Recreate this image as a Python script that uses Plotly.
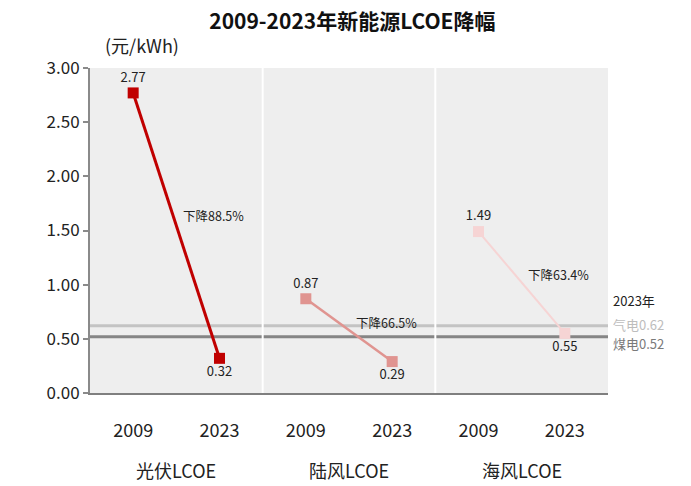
import plotly.graph_objects as go

# LCOE values (元/kWh)
years = ["2009", "2023"]
techs = ["光伏LCOE", "陆风LCOE", "海风LCOE"]
lcoe_2009 = [2.77, 0.87, 1.49]
lcoe_2023 = [0.32, 0.29, 0.55]
drop_labels = ["下降88.5%", "下降66.5%", "下降63.4%"]
drop_label_y = [1.64, 0.65, 1.09]
colors = ["#c00000", "#e09490", "#f6d4d4"]
line_widths = [3, 2.5, 2]

gas_2023 = 0.62
coal_2023 = 0.52

FONT = "Noto Sans CJK SC, Noto Sans, sans-serif"

fig = go.Figure()

# reference lines for thermal power
for val, col in [(gas_2023, "#c3c3c3"), (coal_2023, "#858585")]:
    fig.add_trace(go.Scatter(
        x=[-0.5, 5.5], y=[val, val], mode="lines",
        line=dict(color=col, width=3), hoverinfo="skip", showlegend=False,
    ))

for i, tech in enumerate(techs):
    x0 = 2 * i
    fig.add_trace(go.Scatter(
        x=[x0, x0 + 1],
        y=[lcoe_2009[i], lcoe_2023[i]],
        mode="lines+markers+text",
        line=dict(color=colors[i], width=line_widths[i]),
        marker=dict(symbol="square", size=11, color=colors[i]),
        text=[f"{lcoe_2009[i]:.2f}", f"{lcoe_2023[i]:.2f}"],
        textposition=["top center", "bottom center"],
        textfont=dict(family=FONT, size=13, color="#222222"),
        name=tech, showlegend=False, cliponaxis=False,
    ))
    fig.add_annotation(
        x=x0 + 0.93, y=drop_label_y[i], text=drop_labels[i],
        showarrow=False, font=dict(family=FONT, size=12.5, color="#222222"),
    )
    fig.add_annotation(
        x=x0 + 0.5, xref="x", y=-0.237, yref="paper", text=tech,
        showarrow=False, yanchor="middle",
        font=dict(family=FONT, size=18, color="#222222"),
    )

# panel separators
for xs in [1.5, 3.5]:
    fig.add_shape(type="line", x0=xs, x1=xs, y0=0, y1=1, xref="x", yref="paper",
                  line=dict(color="white", width=2), layer="above")

# labels for thermal reference lines
fig.add_annotation(x=1.006, xref="paper", y=0.85, yref="y", text="2023年",
                   showarrow=False, xanchor="left",
                   font=dict(family=FONT, size=13, color="#222222"))
fig.add_annotation(x=1.006, xref="paper", y=gas_2023 + 0.01, yref="y",
                   text=f"气电{gas_2023:.2f}", showarrow=False, xanchor="left",
                   font=dict(family=FONT, size=13, color="#bdbdbd"))
fig.add_annotation(x=1.006, xref="paper", y=coal_2023 - 0.06, yref="y",
                   text=f"煤电{coal_2023:.2f}", showarrow=False, xanchor="left",
                   font=dict(family=FONT, size=13, color="#7a7a7a"))

# unit label
fig.add_annotation(x=0.025, xref="paper", y=1.07, yref="paper", text="(元/kWh)",
                   showarrow=False, xanchor="left", yanchor="middle",
                   font=dict(family=FONT, size=18, color="#222222"))

fig.update_layout(
    width=691, height=486,
    margin=dict(l=90, r=83, t=68, b=93),
    paper_bgcolor="white",
    plot_bgcolor="#eeeeee",
    title=dict(text="<b>2009-2023年新能源LCOE降幅</b>", x=0.51, xanchor="center",
               y=0.955, yanchor="middle",
               font=dict(family=FONT, size=21, color="#111111")),
    xaxis=dict(
        range=[-0.5, 5.5], tickmode="array", tickvals=list(range(6)),
        ticktext=years * 3, showgrid=False, zeroline=False,
        showline=True, linecolor="#7f7f7f", linewidth=2,
        ticks="", ticklabelstandoff=20,
        tickfont=dict(family=FONT, size=18, color="#222222"),
    ),
    yaxis=dict(
        range=[0, 3.0], tickmode="array", tickvals=[0, 0.5, 1, 1.5, 2, 2.5, 3],
        tickformat=".2f", showgrid=False, zeroline=False,
        showline=True, linecolor="#8a8a8a", linewidth=2,
        ticks="outside", ticklen=5, tickcolor="#8a8a8a", tickwidth=2,
        tickfont=dict(family=FONT, size=17, color="#222222"),
    ),
)

fig.write_html("out.html")
